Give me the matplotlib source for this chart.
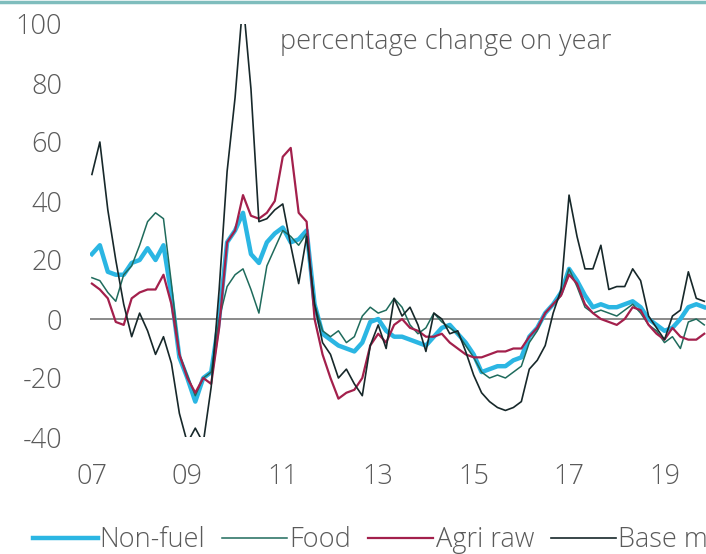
import numpy as np
import matplotlib
matplotlib.use('Agg')
import matplotlib.pyplot as plt
from matplotlib.lines import Line2D

plt.rcParams['font.family'] = ['Open Sans', 'DejaVu Sans']
plt.rcParams['font.weight'] = 'light'
plt.rcParams['axes.unicode_minus'] = False

# Bi-monthly readings, Jan 2007 onwards (percentage change on year)
start_year = 2007
step = 1 / 6

non_fuel = [22, 25, 16, 15, 15, 19, 20, 24, 20, 25, 8, -13,
            -20, -28, -20, -18, 0, 26, 30, 36, 22, 19, 26, 29,
            31, 26, 27, 30, 5, -5, -7, -9, -10, -11, -8, -1,
            0, -4, -6, -6, -7, -8, -9, -6, -3, -2, -5, -8,
            -12, -18, -17, -16, -16, -14, -13, -6, -3, 2, 5, 9,
            17, 13, 8, 4, 5, 4, 4, 5, 6, 4, 0, -2,
            -4, -3, 0, 4, 5, 4]

food = [14, 13, 9, 6, 15, 18, 25, 33, 36, 34, 12, -12,
        -19, -26, -20, -18, 0, 11, 15, 17, 10, 2, 18, 24,
        30, 28, 25, 29, 5, -4, -6, -4, -8, -6, 1, 4,
        2, 3, 7, 4, -2, -5, -3, 2, -1, -3, -5, -9,
        -13, -18, -20, -19, -20, -18, -16, -8, -4, 2, 5, 8,
        17, 11, 4, 2, 3, 2, 1, 3, 5, 2, -2, -4,
        -8, -6, -10, -1, 0, -2]

agri_raw = [12, 10, 7, -1, -2, 7, 9, 10, 10, 15, 5, -12,
            -20, -25, -20, -22, -3, 26, 30, 42, 35, 34, 36, 40,
            55, 58, 36, 33, 0, -12, -20, -27, -25, -24, -20, -9,
            -5, -8, -2, 0, -3, -4, -6, -6, -5, -8, -10, -12,
            -13, -13, -12, -11, -11, -10, -10, -6, -3, 2, 5, 8,
            15, 12, 5, 2, 0, -1, -2, 0, 4, 3, -2, -5,
            -7, -3, -6, -7, -7, -5]

base_metals = [49, 60, 37, 20, 5, -6, 2, -4, -12, -6, -15, -32,
               -42, -37, -42, -23, 10, 50, 75, 108, 78, 33, 34, 37,
               39, 25, 12, 28, 5, -8, -12, -20, -17, -22, -26, -9,
               -2, -10, 7, 1, 4, -2, -11, 2, 0, -5, -4, -11,
               -19, -25, -28, -30, -31, -30, -28, -17, -14, -9, 2, 10,
               42, 28, 17, 17, 25, 10, 11, 11, 17, 13, 1, -3,
               -7, 1, 3, 16, 7, 6]

year_ticks = [2007, 2009, 2011, 2013, 2015, 2017, 2019]
year_labels = ['07', '09', '11', '13', '15', '17', '19']
y_ticks = [-40, -20, 0, 20, 40, 60, 80, 100]

t = start_year + step * np.arange(len(non_fuel))

text_col = '#5a5a5a'
fs = 19.5

fig = plt.figure(figsize=(7.06, 5.54), dpi=100)
ax = fig.add_axes([90 / 706, 117 / 554, 616 / 706, 413 / 554])

ax.axhline(0, color='#8a8a8a', lw=1.4, zorder=1)
ax.plot(t, non_fuel, color='#2bb6e3', lw=3.2, label='Non-fuel', zorder=2)
ax.plot(t, food, color='#1f6b5c', lw=1.1, label='Food', zorder=3)
ax.plot(t, agri_raw, color='#a3204c', lw=1.6, label='Agri raw', zorder=4)
ax.plot(t, base_metals, color='#17282a', lw=1.2, label='Base metals', zorder=5)

ax.set_xlim(2006.96, 2019.87)
ax.set_ylim(-40, 100)
ax.set_xticks(year_ticks)
ax.set_xticklabels(year_labels)
ax.set_yticks(y_ticks)
ax.tick_params(length=0, labelsize=fs, colors=text_col)
ax.tick_params(axis='y', pad=20)
ax.tick_params(axis='x', pad=19)
for s in ax.spines.values():
    s.set_visible(False)

fig.text(280 / 706, 1 - 42 / 554, 'percentage change on year',
         fontsize=fs, color=text_col, va='center', ha='left')

# thin teal rule along the top edge
fig.add_artist(Line2D([0, 1], [0.996, 0.996], color='#7fbdbd', lw=2.5,
                      transform=fig.transFigure))

handles, labels = ax.get_legend_handles_labels()
leg = fig.legend(handles, labels, loc='center left', ncol=4,
                 bbox_to_anchor=(19 / 706, 1 - 540 / 554), frameon=False,
                 fontsize=fs, handlelength=2.4, handletextpad=0.08,
                 columnspacing=0.63, borderpad=0)
for txt in leg.get_texts():
    txt.set_color(text_col)

fig.savefig('out.png', dpi=100)
